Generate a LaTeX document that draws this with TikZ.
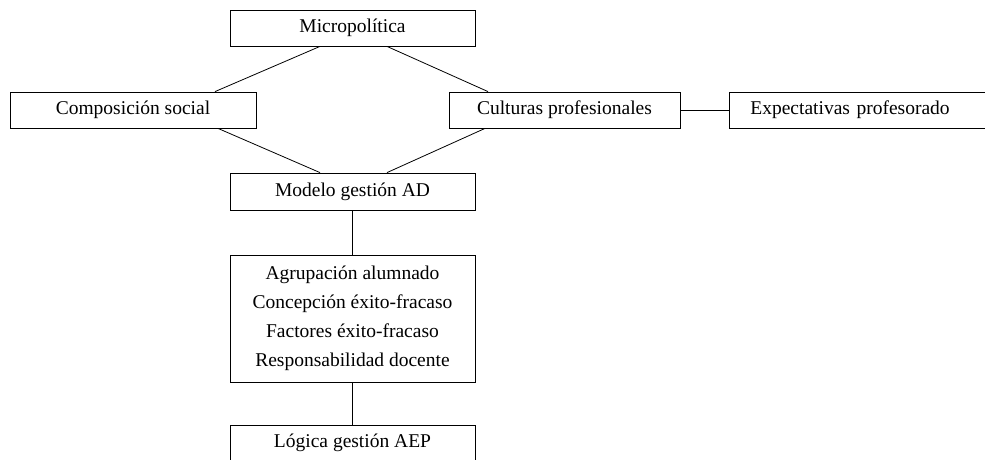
\documentclass[tikz,border=0pt]{standalone}
\usepackage{fontspec}
\setmainfont{Liberation Serif}
\begin{document}
\begin{tikzpicture}[x=1pt,y=-1pt,
  box/.style={draw,line width=0.8pt,minimum height=36pt,inner sep=0pt,
    font=\fontsize{19.5}{29}\selectfont},
  link/.style={line width=0.8pt}]
\useasboundingbox (0,0) rectangle (985,459);
\clip (0,0) rectangle (985,459);
\node[box,minimum width=245pt] (micro) at (352.5,28) {Micropolítica};
\node[box,minimum width=246pt] (comp) at (133,110) {Composición social};
\node[box,minimum width=231pt] (cult) at (564.5,110) {Culturas profesionales};
\node[box,anchor=west,text width=245pt,align=left,inner xsep=21pt] (expect) at (729,110) {Expectativas profesorado};
\node[box,minimum width=245pt,minimum height=37pt] (modelo) at (352.5,191.5) {Modelo gestión AD};
\node[box,minimum width=245pt,minimum height=127pt,align=center] (big) at (352.5,318.5)
  {Agrupación alumnado\\Concepción éxito-fracaso\\Factores éxito-fracaso\\Responsabilidad docente};
\node[box,minimum width=245pt] (logica) at (352.5,443) {Lógica gestión AEP};
\draw[link] ([xshift=-32.5pt]micro.south) -- ([xshift=82pt]comp.north);
\draw[link] ([xshift=34.5pt]micro.south) -- ([xshift=-76.5pt]cult.north);
\draw[link] ([xshift=85pt]comp.south) -- ([xshift=-32.5pt]modelo.north);
\draw[link] ([xshift=-79.5pt]cult.south) -- ([xshift=34.5pt]modelo.north);
\draw[link] (cult.east) -- (expect.west);
\draw[link] (modelo.south) -- (big.north);
\draw[link] (big.south) -- (logica.north);
\end{tikzpicture}
\end{document}
